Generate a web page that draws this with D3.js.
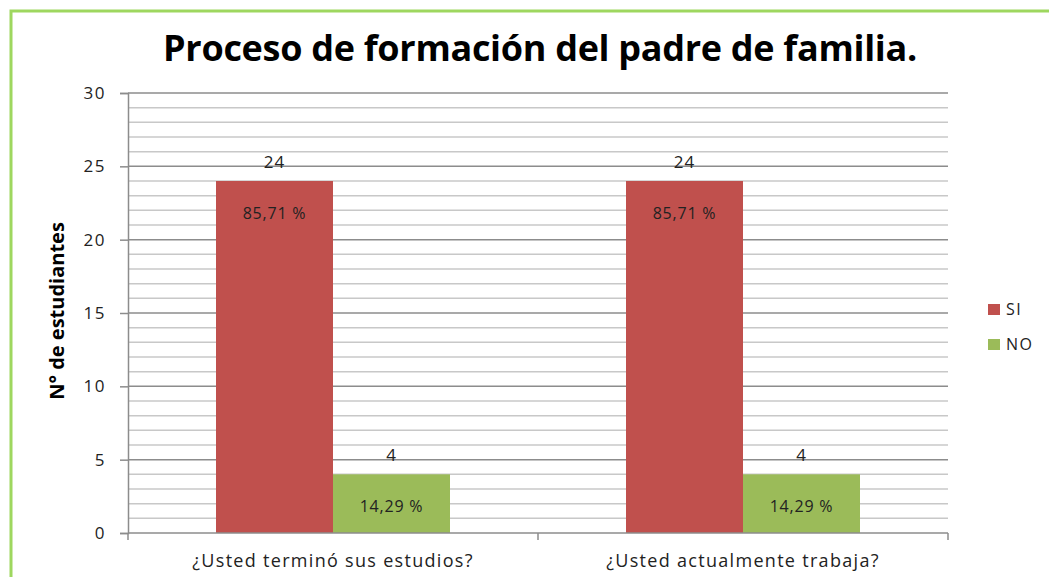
<!DOCTYPE html>
<html>
<head>
<meta charset="utf-8">
<script src="https://cdn.jsdelivr.net/npm/d3@7"></script>
<style>
  body { margin: 0; background: #fff; }
  svg { font-family: "Open Sans", sans-serif; }
</style>
</head>
<body>
<div id="chart"></div>
<script>
var categories = ["¿Usted terminó sus estudios?", "¿Usted actualmente trabaja?"];
var seriesNames = ["SI", "NO"];
var siValues = [24, 24];
var noValues = [4, 4];
var siPercent = ["85,71 %", "85,71 %"];
var noPercent = ["14,29 %", "14,29 %"];
var yTicks = [0, 5, 10, 15, 20, 25, 30];

var colors = { SI: "#c0504d", NO: "#9bbb59" };

var width = 1049, height = 577;
var margin = { top: 93, left: 128, right: 101, bottom: 44 };
var plotW = width - margin.left - margin.right,
    plotH = height - margin.top - margin.bottom;

var svg = d3.select("#chart").append("svg")
  .attr("width", width)
  .attr("height", height);

// outer frame
svg.append("path")
  .attr("d", "M11,577 L11,11 L1049,11")
  .attr("fill", "none")
  .attr("stroke", "#9ed75f")
  .attr("stroke-width", 3);

svg.append("text")
  .attr("x", 540)
  .attr("y", 61)
  .attr("text-anchor", "middle")
  .style("font-size", "36px")
  .style("font-weight", "bold")
  .style("letter-spacing", "-0.3px")
  .text("Proceso de formación del padre de familia.");

var g = svg.append("g")
  .attr("transform", "translate(" + margin.left + "," + margin.top + ")");

var y = d3.scaleLinear().domain([0, 30]).range([plotH, 0]);
var x0 = d3.scaleBand().domain(categories).range([0, plotW]).paddingInner(0).paddingOuter(0);
var x1 = d3.scaleBand().domain(seriesNames).range([88, x0.bandwidth() - 88]);

// gridlines every 1 unit, darker every 5
g.selectAll("line.grid")
  .data(d3.range(1, 31))
  .enter().append("line")
  .attr("class", "grid")
  .attr("x1", 0).attr("x2", plotW)
  .attr("y1", function(d) { return y(d); })
  .attr("y2", function(d) { return y(d); })
  .attr("stroke", function(d) { return d % 5 === 0 ? "#8c8c8c" : "#c8c8c8"; })
  .attr("stroke-width", 1.5);

var data = [];
categories.forEach(function(c, i) {
  data.push({ cat: c, s: "SI", v: siValues[i], pct: siPercent[i] });
  data.push({ cat: c, s: "NO", v: noValues[i], pct: noPercent[i] });
});

var bars = g.selectAll("g.bar").data(data).enter().append("g")
  .attr("transform", function(d) { return "translate(" + (x0(d.cat) + x1(d.s)) + ",0)"; });

bars.append("rect")
  .attr("y", function(d) { return y(d.v); })
  .attr("width", x1.bandwidth())
  .attr("height", function(d) { return plotH - y(d.v); })
  .attr("fill", function(d) { return colors[d.s]; });

bars.append("text")
  .attr("x", x1.bandwidth() / 2)
  .attr("y", function(d) { return y(d.v) - 13; })
  .attr("text-anchor", "middle")
  .style("font-size", "17px")
  .style("letter-spacing", "1px")
  .style("fill", "#222")
  .text(function(d) { return d.v; });

bars.append("text")
  .attr("x", x1.bandwidth() / 2)
  .attr("y", function(d) { return y(d.v) + 38; })
  .attr("text-anchor", "middle")
  .style("font-size", "16px")
  .style("letter-spacing", "0.8px")
  .style("fill", "#222")
  .text(function(d) { return d.pct; });

// axes
var yAxis = d3.axisLeft(y).tickValues(yTicks).tickSize(8).tickPadding(14);
var ya = g.append("g").call(yAxis);
ya.select(".domain").attr("stroke", "#8c8c8c").attr("stroke-width", 1.5);
ya.selectAll(".tick line").attr("stroke", "#8c8c8c").attr("stroke-width", 1.5);
ya.selectAll("text").style("font-size", "17px").style("fill", "#222")
  .style("letter-spacing", "1.5px")
  .style("font-family", "'Open Sans', sans-serif");

var xa = g.append("g").attr("transform", "translate(0," + plotH + ")");
xa.append("line").attr("x1", 0).attr("x2", plotW).attr("stroke", "#8c8c8c").attr("stroke-width", 1.5);
xa.selectAll("line.tk").data([0, plotW / 2, plotW]).enter().append("line")
  .attr("x1", function(d) { return d; }).attr("x2", function(d) { return d; })
  .attr("y1", 0).attr("y2", 7)
  .attr("stroke", "#8c8c8c").attr("stroke-width", 1.5);
xa.selectAll("text").data(categories).enter().append("text")
  .attr("x", function(d) { return x0(d) + x0.bandwidth() / 2; })
  .attr("y", 34)
  .attr("text-anchor", "middle")
  .style("font-size", "18px")
  .style("letter-spacing", "1.3px")
  .style("fill", "#222")
  .text(function(d) { return d; });

svg.append("text")
  .attr("transform", "translate(64,311) rotate(-90)")
  .attr("text-anchor", "middle")
  .style("font-size", "20px")
  .style("font-weight", "bold")
  .text("N° de estudiantes");

// legend
var legend = svg.selectAll("g.legend").data(seriesNames).enter().append("g")
  .attr("transform", function(d, i) { return "translate(988," + (304 + i * 35) + ")"; });
legend.append("rect").attr("width", 12).attr("height", 11)
  .attr("fill", function(d) { return colors[d]; });
legend.append("text").attr("x", 18).attr("y", 11)
  .style("font-size", "16px").style("fill", "#222")
  .style("letter-spacing", "1.5px")
  .text(function(d) { return d; });
</script>
</body>
</html>
